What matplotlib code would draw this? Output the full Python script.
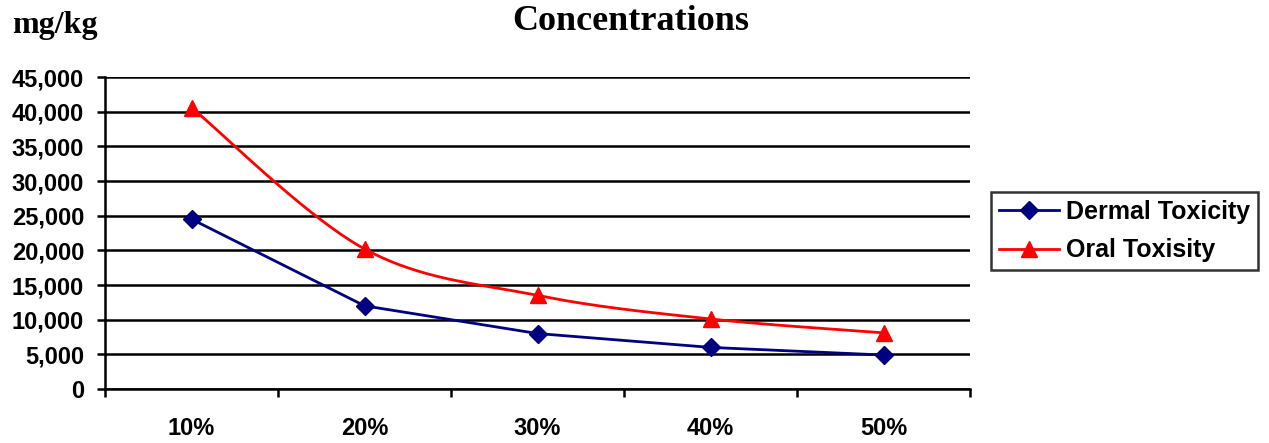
import matplotlib
matplotlib.use("Agg")
import matplotlib.pyplot as plt
import numpy as np
from matplotlib.ticker import FuncFormatter, MultipleLocator

# Toxicity (mg/kg) by concentration
CATEGORIES = ["10%", "20%", "30%", "40%", "50%"]
DERMAL = [24500, 12000, 8000, 6000, 4900]
ORAL = [40600, 20200, 13500, 10100, 8100]

DERMAL_COLOR = "#000080"
ORAL_COLOR = "#FF0000"

SANS = ["Liberation Sans", "DejaVu Sans"]
SERIF = ["Liberation Serif", "DejaVu Serif"]


def smooth_curve(xs, ys, steps=40):
    """Catmull-Rom spline through the points (spreadsheet-style smoothed line)."""
    pts = np.column_stack([xs, ys]).astype(float)
    padded = np.vstack([pts[0], pts, pts[-1]])
    out = []
    for i in range(len(pts) - 1):
        p0, p1, p2, p3 = padded[i], padded[i + 1], padded[i + 2], padded[i + 3]
        c1 = p1 + (p2 - p0) / 6.0
        c2 = p2 - (p3 - p1) / 6.0
        t = np.linspace(0, 1, steps)[:, None]
        seg = ((1 - t) ** 3) * p1 + 3 * ((1 - t) ** 2) * t * c1 \
            + 3 * (1 - t) * t ** 2 * c2 + t ** 3 * p2
        out.append(seg if i == 0 else seg[1:])
    curve = np.vstack(out)
    return curve[:, 0], curve[:, 1]


fig = plt.figure(figsize=(12.69, 4.43), dpi=100)
ax = fig.add_axes([105 / 1269, 1 - 389 / 443, 865 / 1269, 312 / 443])

x = np.arange(len(CATEGORIES))

ax.plot(x, DERMAL, color=DERMAL_COLOR, linewidth=2, marker="D",
        markersize=9, label="Dermal Toxicity", zorder=3)

sx, sy = smooth_curve(x, ORAL)
ax.plot(sx, sy, color=ORAL_COLOR, linewidth=2, zorder=3)
ax.plot(x, ORAL, color=ORAL_COLOR, linestyle="none", marker="^",
        markersize=12, zorder=4)
# legend proxy for the smoothed series
ax.plot([], [], color=ORAL_COLOR, linewidth=2, marker="^",
        markersize=12, label="Oral Toxisity")

# axes
ax.set_xlim(-0.5, len(CATEGORIES) - 0.5)
ax.set_ylim(0, 45000)
ax.yaxis.set_major_locator(MultipleLocator(5000))
ax.yaxis.set_major_formatter(FuncFormatter(lambda v, _: f"{int(v):,}"))
ax.grid(axis="y", color="black", linewidth=1.8)
ax.set_axisbelow(True)

ax.set_xticks(x)
ax.set_xticklabels(CATEGORIES)
ax.set_xticks(np.arange(-0.5, len(CATEGORIES)), minor=True)
ax.tick_params(axis="x", which="major", length=0, pad=20)
ax.tick_params(axis="x", which="minor", length=6, width=1.8,
               direction="out", color="black")
ax.tick_params(axis="y", length=6, width=1.8, direction="out", pad=9)

for lbl in ax.get_xticklabels() + ax.get_yticklabels():
    lbl.set_fontfamily(SANS)
    lbl.set_fontweight("bold")
    lbl.set_fontsize(17)

for side in ("top", "right"):
    ax.spines[side].set_visible(False)
for side in ("left", "bottom"):
    ax.spines[side].set_linewidth(1.8)
    ax.spines[side].set_color("black")

# legend
leg = ax.legend(loc="upper left", bbox_to_anchor=(991 / 1269, 1 - 192 / 443),
                bbox_transform=fig.transFigure, borderaxespad=0,
                prop={"family": SANS, "weight": "bold", "size": 18},
                frameon=True, fancybox=False, handlelength=2.4,
                handletextpad=0.3, labelspacing=0.6, borderpad=0.3)
leg.get_frame().set_edgecolor("black")
leg.get_frame().set_linewidth(1.8)

# titles
fig.text(631 / 1269, 1 - 30 / 443, "Concentrations", ha="center",
         va="baseline", fontfamily=SERIF, fontweight="bold", fontsize=26)
fig.text(12 / 1269, 1 - 33 / 443, "mg/kg", ha="left", va="baseline",
         fontfamily=SERIF, fontweight="bold", fontsize=23)

fig.savefig("out.png", dpi=100)
